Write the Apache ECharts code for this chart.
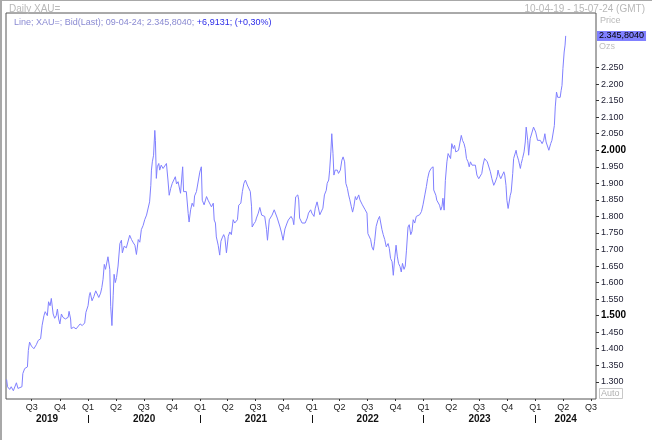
<!DOCTYPE html>
<html>
<head>
<meta charset="utf-8">
<script src="https://cdn.jsdelivr.net/npm/echarts@6/dist/echarts.min.js"></script>
<style>html,body{margin:0;padding:0;background:#fff}#c{width:652px;height:440px}</style>
</head>
<body>
<div id="c"></div>
<script>
// ---- data ----
const dates = [
'2019-04-10','2019-04-13','2019-04-20','2019-04-25','2019-05-02','2019-05-12','2019-05-17','2019-05-23','2019-05-30','2019-06-02','2019-06-08','2019-06-17','2019-06-20','2019-06-24','2019-06-30','2019-07-08','2019-07-16','2019-07-22','2019-07-30','2019-08-04','2019-08-10','2019-08-14','2019-08-21','2019-08-25','2019-08-30','2019-09-03','2019-09-09','2019-09-14','2019-09-19','2019-09-23','2019-09-27','2019-10-01','2019-10-06','2019-10-11','2019-10-19','2019-10-28','2019-10-31','2019-11-05','2019-11-07','2019-11-15','2019-11-23','2019-11-29','2019-12-06','2019-12-13','2019-12-21','2019-12-25',
'2020-01-01','2020-01-05','2020-01-08','2020-01-14','2020-01-20','2020-01-26','2020-01-31','2020-02-05','2020-02-11','2020-02-15','2020-02-19','2020-02-23','2020-02-27','2020-03-02','2020-03-06','2020-03-12','2020-03-15','2020-03-19','2020-03-23','2020-03-26','2020-03-30','2020-04-03','2020-04-08','2020-04-14','2020-04-19','2020-04-22','2020-04-28','2020-05-05','2020-05-11','2020-05-16','2020-05-22','2020-05-28','2020-06-02','2020-06-07','2020-06-13','2020-06-18','2020-06-23','2020-06-29','2020-07-04','2020-07-10','2020-07-15','2020-07-20','2020-07-24','2020-07-26','2020-07-29','2020-08-02','2020-08-06','2020-08-08','2020-08-11','2020-08-14','2020-08-19','2020-08-22','2020-08-27','2020-09-02','2020-09-07','2020-09-13','2020-09-18','2020-09-22','2020-09-27','2020-10-02','2020-10-07','2020-10-12','2020-10-16','2020-10-21','2020-10-25','2020-10-29','2020-11-05','2020-11-08','2020-11-12','2020-11-17','2020-11-23','2020-11-26','2020-12-01','2020-12-06','2020-12-11','2020-12-14','2020-12-20','2020-12-25','2020-12-31',
'2021-01-05','2021-01-08','2021-01-14','2021-01-22','2021-01-27','2021-02-02','2021-02-07','2021-02-13','2021-02-16','2021-02-20','2021-02-23','2021-03-01','2021-03-06','2021-03-10','2021-03-14','2021-03-19','2021-03-23','2021-03-28','2021-04-03','2021-04-08','2021-04-13','2021-04-19','2021-04-24','2021-04-30','2021-05-03','2021-05-07','2021-05-14','2021-05-19','2021-05-24','2021-05-29','2021-06-04','2021-06-09','2021-06-14','2021-06-18','2021-06-20','2021-06-26','2021-07-01','2021-07-04','2021-07-10','2021-07-15','2021-07-21','2021-07-26','2021-07-31','2021-08-06','2021-08-09','2021-08-15','2021-08-20','2021-08-24','2021-08-31','2021-09-05','2021-09-10','2021-09-13','2021-09-19','2021-09-24','2021-09-29','2021-10-05','2021-10-10','2021-10-12','2021-10-16','2021-10-21','2021-10-25','2021-10-31','2021-11-03','2021-11-09','2021-11-16','2021-11-19','2021-11-22','2021-11-25','2021-11-30','2021-12-05','2021-12-10','2021-12-17','2021-12-21','2021-12-28',
'2022-01-01','2022-01-08','2022-01-12','2022-01-18','2022-01-24','2022-01-27','2022-02-01','2022-02-06','2022-02-11','2022-02-17','2022-02-20','2022-02-25','2022-02-28','2022-03-04','2022-03-07','2022-03-11','2022-03-14','2022-03-18','2022-03-25','2022-03-29','2022-04-04','2022-04-09','2022-04-13','2022-04-18','2022-04-22','2022-04-27','2022-05-01','2022-05-05','2022-05-10','2022-05-14','2022-05-18','2022-05-23','2022-05-27','2022-06-03','2022-06-07','2022-06-11','2022-06-15','2022-06-20','2022-06-24','2022-06-30','2022-07-03','2022-07-09','2022-07-12','2022-07-16','2022-07-21','2022-07-25','2022-07-30','2022-08-05','2022-08-10','2022-08-14','2022-08-18','2022-08-22','2022-08-27','2022-09-01','2022-09-07','2022-09-11','2022-09-15','2022-09-20','2022-09-24','2022-09-28','2022-10-03','2022-10-07','2022-10-11','2022-10-16','2022-10-20','2022-10-24','2022-10-29','2022-11-02','2022-11-06','2022-11-11','2022-11-15','2022-11-20','2022-11-24','2022-11-28','2022-12-03','2022-12-08','2022-12-14','2022-12-19','2022-12-25','2022-12-30',
'2023-01-05','2023-01-10','2023-01-14','2023-01-19','2023-01-25','2023-01-28','2023-02-01','2023-02-03','2023-02-06','2023-02-10','2023-02-13','2023-02-19','2023-02-22','2023-02-26','2023-03-02','2023-03-05','2023-03-09','2023-03-13','2023-03-18','2023-03-22','2023-03-26','2023-03-30','2023-04-03','2023-04-08','2023-04-12','2023-04-16','2023-04-21','2023-04-25','2023-05-01','2023-05-04','2023-05-08','2023-05-13','2023-05-17','2023-05-21','2023-05-26','2023-05-30','2023-06-03','2023-06-08','2023-06-13','2023-06-19','2023-06-24','2023-06-30','2023-07-05','2023-07-10','2023-07-14','2023-07-19','2023-07-24','2023-07-28','2023-08-01','2023-08-07','2023-08-12','2023-08-18','2023-08-23','2023-08-29','2023-09-01','2023-09-05','2023-09-10','2023-09-14','2023-09-20','2023-09-23','2023-09-27','2023-09-30','2023-10-04','2023-10-08','2023-10-11','2023-10-14','2023-10-19','2023-10-22','2023-10-25','2023-10-30','2023-11-02','2023-11-07','2023-11-13','2023-11-16','2023-11-20','2023-11-25','2023-11-29','2023-12-02','2023-12-07','2023-12-10','2023-12-15','2023-12-21','2023-12-26','2023-12-29',
'2024-01-02','2024-01-08','2024-01-12','2024-01-17','2024-01-23','2024-01-28','2024-02-01','2024-02-05','2024-02-09','2024-02-14','2024-02-17','2024-02-20','2024-02-24','2024-02-29','2024-03-03','2024-03-06','2024-03-10','2024-03-14','2024-03-17','2024-03-22','2024-03-25','2024-03-28','2024-03-31','2024-04-04','2024-04-07','2024-04-09'
];
const prices = [
1307,1285,1277,1285,1273,1297,1280,1277,1285,1325,1340,1345,1395,1420,1408,1400,1412,1425,1430,1471,1500,1512,1500,1542,1530,1552,1505,1492,1500,1520,1490,1475,1505,1495,1490,1495,1513,1490,1461,1465,1460,1465,1475,1470,1478,1510,
1530,1560,1570,1545,1558,1575,1580,1555,1568,1585,1610,1655,1640,1645,1678,1640,1527,1470,1560,1625,1600,1615,1650,1718,1728,1690,1710,1705,1700,1743,1730,1720,1713,1685,1730,1722,1760,1773,1790,1804,1810,1844,1894,1940,1965,1985,2060,2030,1915,1950,1960,1940,1955,1945,1950,1960,1910,1864,1885,1900,1905,1920,1898,1905,1900,1870,1950,1875,1870,1875,1809,1783,1820,1840,1830,1862,1875,1875,1934,
1950,1849,1835,1860,1849,1843,1829,1840,1789,1780,1738,1713,1683,1725,1735,1745,1735,1690,1740,1753,1745,1790,1780,1775,1790,1834,1840,1875,1900,1910,1895,1895,1875,1829,1768,1778,1785,1795,1810,1827,1804,1804,1800,1760,1728,1790,1785,1804,1820,1825,1795,1790,1768,1750,1728,1762,1760,1780,1789,1795,1800,1790,1775,1859,1865,1850,1795,1790,1780,1785,1780,1795,1810,1820,
1810,1800,1825,1844,1850,1805,1800,1825,1865,1879,1900,1910,1940,1995,2050,1990,1925,1940,1940,1930,1940,1970,1980,1965,1900,1885,1865,1850,1829,1813,1829,1860,1850,1865,1850,1855,1835,1830,1820,1810,1748,1745,1730,1708,1698,1725,1770,1790,1800,1795,1760,1745,1730,1708,1718,1703,1673,1663,1622,1668,1713,1680,1658,1648,1632,1658,1640,1650,1698,1768,1775,1745,1755,1790,1780,1800,1800,1805,1815,1835,
1865,1890,1914,1934,1945,1940,1950,1880,1874,1864,1849,1844,1834,1819,1830,1855,1819,1909,1965,1990,1985,1975,2020,2005,2015,1995,1990,2000,1995,2045,2030,2020,2005,1975,1965,1950,1965,1955,1950,1955,1925,1914,1920,1930,1955,1975,1970,1965,1960,1935,1914,1894,1904,1920,1940,1925,1914,1914,1935,1925,1894,1849,1824,1829,1864,1874,1930,1975,1980,2000,1985,1970,1945,1960,1975,1995,2025,2070,2030,1985,2035,2030,2070,2075,
2055,2030,2025,2030,2020,2030,2050,2025,2030,2000,1995,2020,2030,2035,2075,2131,2176,2160,2155,2160,2180,2196,2247,2297,2318,2345.804
];
const quarterTicks = ['2019-07-01','2019-10-01','2020-01-01','2020-04-01','2020-07-01','2020-10-01','2021-01-01','2021-04-01','2021-07-01','2021-10-01','2022-01-01','2022-04-01','2022-07-01','2022-10-01','2023-01-01','2023-04-01','2023-07-01','2023-10-01','2024-01-01','2024-04-01','2024-07-01'];
const yearStarts = ['2020-01-01','2021-01-01','2022-01-01','2023-01-01','2024-01-01'];
const years = [2019,2020,2021,2022,2023,2024];
const yTicks = [1300,1350,1400,1450,1500,1550,1600,1650,1700,1750,1800,1850,1900,1950,2000,2050,2100,2150,2200,2250];
const boldTicks = [1500,2000];
const axisStart = '2019-04-08', axisEnd = '2024-07-17';
const yMin = 1248, yMax = 2415;
const changeText = '+6,9131; (+0,30%)';
const lastDateText = '09-04-24';

// ---- helpers ----
const ts = s => Date.parse(s);
const fmtInt = v => String(Math.round(v)).replace(/\B(?=(\d{3})+(?!\d))/g, '.');
const fmtPrice = v => { const p = v.toFixed(4).split('.'); return fmtInt(+p[0]) + ',' + p[1]; };
const xMin = ts(axisStart), xMax = ts(axisEnd);
const qVals = quarterTicks.map(ts);
const ysVals = yearStarts.map(ts);
const yearMid = years.map(y => {
  const a = Math.max(xMin, Date.UTC(y,0,1)), b = Math.min(xMax, Date.UTC(y+1,0,1));
  return (a + b) / 2;
});
const last = prices[prices.length - 1];
const FONT = 'Liberation Sans';

const chart = echarts.init(document.getElementById('c'), null, {renderer: 'canvas'});
chart.setOption({
  animation: false,
  backgroundColor: '#ffffff',
  textStyle: {fontFamily: FONT},
  title: [
    {text: 'Daily XAU=', left: 4, top: -1, textStyle: {fontFamily: FONT, fontSize: 10, fontWeight: 'normal', color: '#b8b8b8'}},
    {text: '10-04-19 - 15-07-24 (GMT)', right: 2, top: -1, textStyle: {fontFamily: FONT, fontSize: 10, fontWeight: 'normal', color: '#b8b8b8'}},
    {text: '{a|Line; XAU=; Bid(Last); ' + lastDateText + '; ' + fmtPrice(last) + '; }{b|' + changeText + '}',
     left: 9, top: 13,
     textStyle: {fontFamily: FONT, fontSize: 9, fontWeight: 'normal',
       rich: {a: {color: '#8a8ad2', fontSize: 9, fontFamily: FONT}, b: {color: '#2b2be8', fontSize: 9, fontFamily: FONT}}}}
  ],
  grid: {left: 6, right: 56, top: 13, bottom: 41, show: true, borderColor: '#555555', borderWidth: 1, backgroundColor: '#ffffff', containLabel: false, outerBoundsMode: 'none'},
  xAxis: [
    {type: 'value', min: xMin, max: xMax, position: 'bottom',
     axisLine: {show: false}, splitLine: {show: false},
     axisTick: {show: true, customValues: qVals, length: 2, lineStyle: {color: '#333'}},
     axisLabel: {customValues: qVals, margin: 4, fontSize: 9, color: '#222', hideOverlap: false,
       formatter: v => 'Q' + (Math.floor(new Date(v).getUTCMonth() / 3) + 1)}},
    {type: 'value', min: xMin, max: xMax, position: 'bottom', offset: 16,
     axisLine: {show: false}, splitLine: {show: false},
     axisTick: {show: true, customValues: ysVals, length: 8, lineStyle: {color: '#111'}},
     axisLabel: {customValues: yearMid, margin: -1, fontSize: 10, fontWeight: 'bold', color: '#111', hideOverlap: false,
       formatter: v => String(new Date(v).getUTCFullYear())}}
  ],
  yAxis: {type: 'value', position: 'right', min: yMin, max: yMax,
    axisLine: {show: false}, splitLine: {show: false},
    axisTick: {show: true, customValues: yTicks, length: 3, lineStyle: {color: '#333'}},
    axisLabel: {customValues: yTicks, margin: 5, fontSize: 9, color: '#1c1c30', hideOverlap: false,
      formatter: v => boldTicks.indexOf(v) >= 0 ? '{b|' + fmtInt(v) + '}' : fmtInt(v),
      rich: {b: {fontWeight: 'bold', fontSize: 10, color: '#000', fontFamily: FONT}}}},
  series: [{
    type: 'line', xAxisIndex: 0,
    data: dates.map((d, i) => [ts(d), prices[i]]),
    showSymbol: false, symbol: 'none',
    lineStyle: {color: '#8080ff', width: 1},
    itemStyle: {color: '#8080ff'},
    markLine: {silent: true, symbol: 'none', animation: false, data: [{yAxis: last}],
      lineStyle: {color: 'rgba(0,0,0,0)', width: 1, type: 'solid'},
      label: {show: true, position: 'end', distance: 1, formatter: fmtPrice(last), backgroundColor: '#8080ff', color: '#000',
        fontSize: 9, fontFamily: FONT, padding: [1, 2, 0, 2]}}
  }],
  graphic: [
    {type: 'rect', shape: {x: 0, y: 0, width: 2, height: 440}, style: {fill: '#a8a8a8'}, silent: true},
    {type: 'rect', shape: {x: 0, y: 0, width: 652, height: 1}, style: {fill: '#a8a8a8'}, silent: true},
    {type: 'text', left: 600, top: 16, style: {text: 'Price', fill: '#b8b8b8', font: '9px ' + FONT}},
    {type: 'text', left: 599, top: 42, style: {text: 'Ozs', fill: '#c0c0c0', font: '9px ' + FONT}},
    {type: 'rect', shape: {x: 599.5, y: 388.5, width: 23, height: 10}, style: {fill: '#fff', stroke: '#c8c8c8', lineWidth: 1}, silent: true},
    {type: 'text', left: 601, top: 389, style: {text: 'Auto', fill: '#b0b0b0', font: '9px ' + FONT}}
  ]
});
</script>
</body>
</html>
